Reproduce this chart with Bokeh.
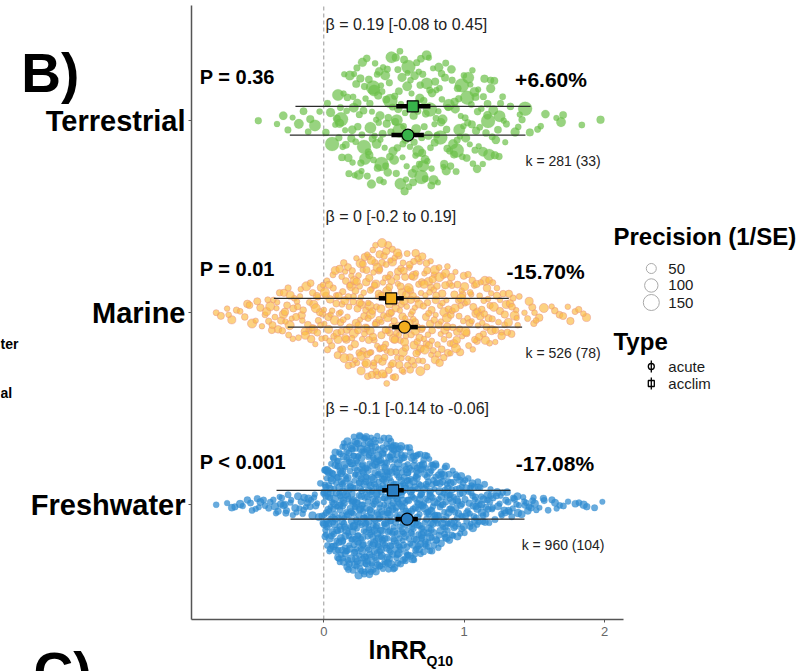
import numpy as np
from bokeh.plotting import figure
from bokeh.models import Range1d, FixedTicker
from bokeh.embed import file_html
from bokeh.resources import INLINE
from bokeh.core.properties import value

FONT = "Liberation Sans"

# ---------------- data ----------------
categories = ["Freshwater", "Marine", "Terrestrial"]
cat_pos = [1, 2, 3]
k_labels = ["k = 960 (104)", "k = 526 (78)", "k = 281 (33)"]
p_labels = ["P < 0.001", "P = 0.01", "P = 0.36"]
pct_labels = ["-17.08%", "-15.70%", "+6.60%"]
beta_labels = ["β = -0.1 [-0.14 to -0.06]", "β = 0 [-0.2 to 0.19]", "β = 0.19 [-0.08 to 0.45]"]

# acclim (square) estimates
acclim_est = [0.494, 0.480, 0.634]
acclim_ci_lo = [0.416, 0.392, 0.516]
acclim_ci_hi = [0.570, 0.570, 0.760]
acclim_pi_lo = [-0.337, -0.356, -0.202]
acclim_pi_hi = [1.330, 1.318, 1.473]
# acute (circle) estimates
acute_est = [0.594, 0.575, 0.599]
acute_ci_lo = [0.511, 0.487, 0.482]
acute_ci_hi = [0.670, 0.670, 0.713]
acute_pi_lo = [-0.237, -0.257, -0.242]
acute_pi_hi = [1.430, 1.413, 1.437]

# effect-size distributions: lnRR bin centres (width 0.1) and counts
bin_width = 0.1
fw_bins = [-0.75, -0.65, -0.55, -0.45, -0.35, -0.25, -0.15, -0.05, 0.05, 0.15,
           0.25, 0.35, 0.45, 0.55, 0.65, 0.75, 0.85, 0.95, 1.05, 1.15,
           1.25, 1.35, 1.45, 1.55, 1.65, 1.75, 1.85, 1.95]
fw_counts = [1, 3, 5, 6, 8, 10, 10, 12, 70, 92,
             106, 105, 99, 88, 78, 67, 52, 40, 32, 22,
             14, 12, 10, 6, 4, 3, 3, 2]
mar_bins = [-0.75, -0.65, -0.55, -0.45, -0.35, -0.25, -0.15, -0.05, 0.05, 0.15,
            0.25, 0.35, 0.45, 0.55, 0.65, 0.75, 0.85, 0.95, 1.05, 1.15,
            1.25, 1.35, 1.45, 1.55, 1.65, 1.75, 1.85]
mar_counts = [2, 4, 5, 6, 12, 14, 15, 18, 24, 32,
              38, 46, 48, 42, 40, 36, 30, 25, 22, 20,
              16, 12, 5, 4, 3, 4, 3]
terr_bins = [-0.45, -0.35, -0.25, -0.15, -0.05, 0.05, 0.15, 0.25, 0.35, 0.45,
             0.55, 0.65, 0.75, 0.85, 0.95, 1.05, 1.15, 1.25, 1.35, 1.45,
             1.55, 1.65, 1.75, 1.85, 1.95]
terr_counts = [1, 1, 3, 3, 3, 6, 17, 23, 23, 23,
               26, 26, 25, 21, 19, 18, 16, 11, 5, 3,
               3, 2, 1, 1, 1]
# typical precision (1/SE) values, cycled over the effect sizes
fw_prec = [14, 18, 12, 22, 16, 13, 20, 15, 28, 11, 17, 12, 24]
mar_prec = [14, 22, 11, 30, 16, 12, 26, 40, 13, 18, 20, 10, 24]
terr_prec = [20, 14, 32, 18, 12, 45, 24, 16, 28, 70, 15, 22, 38, 13, 19, 110, 26]
legend_prec = [50, 100, 150]
legend_prec_labels = ["50", "100", "150"]
type_labels = ["acute", "acclim"]
x_ticks = [0, 1, 2]

# ---------------- styling ----------------
pt_fill = ["#2e8bd0", "#fbbd45", "#6cc04a"]
pt_alpha = [0.72, 0.68, 0.7]
pt_line = ["#2e8bd0", "#e8908a", "#6cc04a"]
pt_line_alpha = [0.3, 0.6, 0.2]
mean_fill = ["#2b7fc4", "#f2ae1e", "#37b34a"]

X0, X1 = -0.9427, 2.1355      # plotting area in lnRR
Y0, Y1 = 0.4021, 3.599        # plotting area in category units


def prec_size(p):
    return 1.8 + 1.16 * np.sqrt(np.asarray(p, float))


def halton(i, b):
    f, r = 1.0, 0.0
    while i > 0:
        f /= b
        r += f * (i % b)
        i //= b
    return r


def swarm(bins, counts, prec, cat, wmax=0.37):
    b = np.asarray(bins, float)
    c = np.asarray(counts, float)
    cmax = c.max()
    xs, ys, ps = [], [], []
    k = 0
    for centre, n in zip(b, c.astype(int)):
        for _ in range(n):
            u = halton(k + 1, 3)
            v = halton(k + 1, 2)
            x = centre - bin_width / 2 + u * bin_width
            d = np.interp(x, b, c) / cmax
            w = wmax * d ** 0.8
            xs.append(x)
            ys.append(cat + (2 * v - 1) * w)
            ps.append(prec[k % len(prec)])
            k += 1
    return np.array(xs), np.array(ys), np.array(ps)


p = figure(width=811, height=671,
           x_range=Range1d(-2.3035, 3.4749), y_range=Range1d(0.1313, 3.626),
           output_backend="svg", toolbar_location=None,
           min_border_left=0, min_border_right=0, min_border_top=0, min_border_bottom=0)
p.outline_line_color = None
p.xgrid.visible = False
p.ygrid.visible = False
p.background_fill_color = "white"

# axes, drawn at fixed positions inside the canvas
p.xaxis.fixed_location = Y0
p.xaxis.ticker = FixedTicker(ticks=x_ticks)
p.xaxis.bounds = (X0, X1)
p.xaxis.axis_line_color = "#555555"
p.xaxis.axis_line_width = 1.5
p.xaxis.major_tick_line_color = "#555555"
p.xaxis.major_tick_out = 3
p.xaxis.major_tick_in = 0
p.xaxis.minor_tick_line_color = None
p.xaxis.major_label_text_font = FONT
p.xaxis.major_label_text_font_size = "13px"
p.xaxis.major_label_text_color = "#666666"
p.xaxis.major_label_standoff = 4

p.yaxis.fixed_location = X0
p.yaxis.ticker = FixedTicker(ticks=cat_pos)
p.yaxis.bounds = (Y0, Y1)
p.yaxis.major_label_overrides = {c: n for c, n in zip(cat_pos, categories)}
p.yaxis.axis_line_color = "#555555"
p.yaxis.axis_line_width = 1.5
p.yaxis.major_tick_line_color = "#555555"
p.yaxis.major_tick_out = 3
p.yaxis.major_tick_in = 0
p.yaxis.minor_tick_line_color = None
p.yaxis.major_label_text_font = FONT
p.yaxis.major_label_text_font_size = "29px"
p.yaxis.major_label_text_font_style = "bold"
p.yaxis.major_label_text_color = "black"
p.yaxis.major_label_standoff = 3

p.segment(x0=[0], x1=[0], y0=[Y0], y1=[Y1], line_dash="4 3",
          line_color="#999999", line_width=1)

# swarms
for i, (bins, counts, prec) in enumerate([(fw_bins, fw_counts, fw_prec),
                                          (mar_bins, mar_counts, mar_prec),
                                          (terr_bins, terr_counts, terr_prec)]):
    xs, ys, ps = swarm(bins, counts, prec, cat_pos[i])
    p.scatter(x=xs, y=ys, size=prec_size(ps), marker="circle",
              fill_color=pt_fill[i], fill_alpha=pt_alpha[i],
              line_color=pt_line[i], line_alpha=pt_line_alpha[i], line_width=0.8)

off = 0.075
cat = np.array(cat_pos, float)
# prediction intervals
p.segment(x0=acclim_pi_lo, x1=acclim_pi_hi, y0=cat + off, y1=cat + off, line_color="#2a2a2a", line_width=1.2)
p.segment(x0=acute_pi_lo, x1=acute_pi_hi, y0=cat - off, y1=cat - off, line_color="#2a2a2a", line_width=1.2)
# confidence intervals
p.segment(x0=acclim_ci_lo, x1=acclim_ci_hi, y0=cat + off, y1=cat + off, line_color="black", line_width=4.5)
p.segment(x0=acute_ci_lo, x1=acute_ci_hi, y0=cat - off, y1=cat - off, line_color="black", line_width=4.5)
# estimates
p.scatter(x=acclim_est, y=cat + off, marker="square", size=11, fill_color=mean_fill,
          line_color="black", line_width=1.2)
p.scatter(x=acute_est, y=cat - off, marker="circle", size=12, fill_color=mean_fill,
          line_color="black", line_width=1.2)

# per-category annotations
p.text(x=[0.012] * 3, y=cat + 0.503, text=beta_labels, text_font=value(FONT),
       text_font_size="16px", text_color="#222222", text_align="left", text_baseline="middle")
p.text(x=[-0.8835] * 3, y=cat + 0.225, text=p_labels, text_font=value(FONT),
       text_font_size="20px", text_font_style="bold", text_color="black",
       text_align="left", text_baseline="middle")
p.text(x=[1.647, 1.580, 1.619], y=cat + 0.215, text=pct_labels, text_font=value(FONT),
       text_font_size="21px", text_font_style="bold", text_color="black",
       text_align="center", text_baseline="middle")
p.text(x=[1.705] * 3, y=cat - 0.21, text=k_labels, text_font=value(FONT),
       text_font_size="14px", text_color="#222222", text_align="center", text_baseline="middle")

# legend: precision
leg_y = [2.2302, 2.1417, 2.0531]
p.text(x=[2.0641], y=[2.397], text=["Precision (1/SE)"], text_font=value(FONT),
       text_font_size="24px", text_font_style="bold", text_color="black",
       text_align="left", text_baseline="middle")
p.scatter(x=[2.3335] * 3, y=leg_y, size=prec_size(legend_prec), marker="circle",
          fill_color=None, line_color="#aaaaaa", line_width=1)
p.text(x=[2.4546] * 3, y=leg_y, text=legend_prec_labels, text_font=value(FONT),
       text_font_size="15px", text_color="#1a1a1a", text_align="left", text_baseline="middle")
# legend: type
type_y = [1.7198, 1.6313]
p.text(x=[2.0641], y=[1.85], text=["Type"], text_font=value(FONT),
       text_font_size="24px", text_font_style="bold", text_color="black",
       text_align="left", text_baseline="middle")
p.segment(x0=[2.3335] * 2, x1=[2.3335] * 2, y0=[y - 0.031 for y in type_y],
          y1=[y + 0.031 for y in type_y], line_color="black", line_width=1.3)
p.scatter(x=[2.3335], y=[type_y[0]], marker="circle", size=6, fill_color=None,
          line_color="black", line_width=1.3)
p.scatter(x=[2.3335], y=[type_y[1]], marker="square", size=6, fill_color=None,
          line_color="black", line_width=1.3)
p.text(x=[2.4546] * 2, y=type_y, text=type_labels, text_font=value(FONT),
       text_font_size="15px", text_color="#1a1a1a", text_align="left", text_baseline="middle")

# panel letters, axis title and neighbouring-panel fragments
p.text(x=[-2.155, -2.068], y=[3.2484, 0.1313], text=["B)", "C)"], text_font=value(FONT),
       text_font_size="55px", text_font_style="bold", text_color="black",
       text_align="left", text_baseline="middle")
p.text(x=[0.3185], y=[0.2458], text=["lnRR"], text_font=value(FONT), text_font_size="25px",
       text_font_style="bold", text_color="black", text_align="left", text_baseline="middle")
p.text(x=[0.7317], y=[0.1885], text=["Q10"], text_font=value(FONT), text_font_size="14px",
       text_font_style="bold", text_color="black", text_align="left", text_baseline="middle")
p.text(x=[-2.3035, -2.3035], y=[1.838, 1.5828], text=["ter", "al"], text_font=value(FONT),
       text_font_size="14px", text_font_style="bold", text_color="black",
       text_align="left", text_baseline="middle")

open("out.html", "w").write(file_html(p, INLINE))
